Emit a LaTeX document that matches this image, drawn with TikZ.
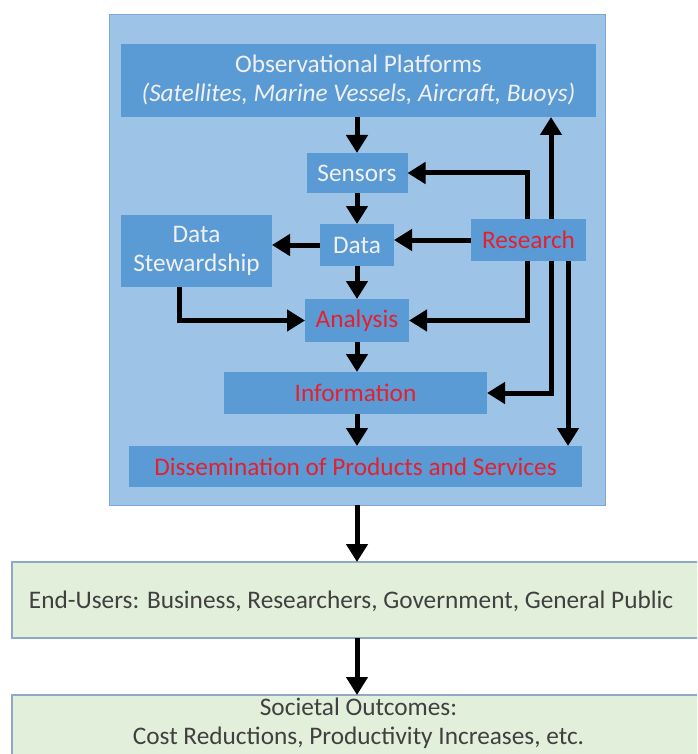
\documentclass[tikz,border=0pt]{standalone}
\usepackage{fontspec}
\setmainfont{Carlito}
\usetikzlibrary{arrows.meta,calc}
\definecolor{outerfill}{HTML}{9DC3E6}
\definecolor{outerdraw}{HTML}{7EA9D6}
\definecolor{boxfill}{HTML}{5B9BD5}
\definecolor{redtxt}{HTML}{E5202E}
\definecolor{greenfill}{HTML}{E2EFDA}
\definecolor{greendraw}{HTML}{8FAAC8}
\definecolor{darktxt}{HTML}{404040}
\begin{document}
\begin{tikzpicture}[x=1pt,y=-1pt,
  txt/.style={font=\fontsize{25.3}{29}\selectfont, align=center},
  blk/.style={txt, fill=boxfill, text=white!94!black, inner sep=0pt, outer sep=0pt},
  redblk/.style={blk, text=redtxt},
  outerbox/.style={fill=outerfill, draw=outerdraw, line width=1pt, inner sep=0pt, outer sep=0pt},
  greenbox/.style={txt, fill=greenfill, draw=greendraw, line width=1.2pt, text=darktxt, inner sep=0pt, outer sep=0pt},
  flow/.style={line width=5pt, -{Triangle[length=18pt,width=21pt]}},
]
\useasboundingbox (0,0) rectangle (697,754);
\clip (0,0) rectangle (697,754);
\fill[white] (0,0) rectangle (697,754);

\node[outerbox, minimum width=496pt, minimum height=490pt] (outer) at (357,260) {};

\node[blk, minimum width=475pt, minimum height=73pt] (obs) at (358.5,80.5)
  {Observational Platforms\\\textit{(Satellites, Marine Vessels, Aircraft, Buoys)}};
\node[blk, minimum width=101pt, minimum height=40pt] (sensors) at (357,173) {Sensors};
\node[blk, minimum width=74pt, minimum height=42pt] (data) at (357,245) {Data};
\node[blk, minimum width=151pt, minimum height=72pt] (ds) at (196.5,251) {Data\\Stewardship};
\node[redblk, minimum width=115pt, minimum height=42pt] (research) at (528.5,240) {Research};
\node[redblk, minimum width=104pt, minimum height=43pt] (analysis) at (357,320.5) {Analysis};
\node[redblk, minimum width=263pt, minimum height=42pt] (info) at (355.5,393) {Information};
\node[redblk, minimum width=453pt, minimum height=41pt] (diss) at (355.5,466.5) {Dissemination of Products and Services};

\node[greenbox, minimum width=695pt, minimum height=76pt] (users) at (359.5,600) {};
\node[txt, text=darktxt] (userstext) at (351,601)
  {End-Users: Business, Researchers, Government, General Public};
\node[greenbox, minimum width=695pt, minimum height=90pt, anchor=north] (societal) at (359.5,695) {};
\node[txt, text=darktxt] (soctext) at (358.5,723.5)
  {Societal Outcomes:\\Cost Reductions, Productivity Increases, etc.};

% central flow
\draw[flow] (obs.south -| sensors.north) -- (sensors.north);
\draw[flow] (sensors.south) -- (data.north);
\draw[flow] (data.south) -- (analysis.north);
\draw[flow] (analysis.south) -- (info.north -| analysis.south);
\draw[flow] (info.south -| analysis.south) -- (diss.north -| analysis.south);
\draw[flow] (outer.south) -- (users.north -| outer.south);
\draw[flow] (users.south -| outer.south) -- (societal.north -| outer.south);

% data stewardship
\draw[flow] (data.west) -- (data.west -| ds.east);
\draw[flow] ([xshift=-17.5pt]ds.south) |- (analysis.west);

% research links
\coordinate (rA) at ([xshift=-1.5pt]research.north);
\coordinate (rB) at ([xshift=22.5pt]research.north);
\coordinate (rAs) at ([xshift=-1.5pt]research.south);
\coordinate (rBs) at ([xshift=22.5pt]research.south);
\coordinate (rCs) at ([xshift=39.5pt]research.south);
\draw[flow] (rA) |- (sensors.east);
\draw[flow] (rB) -- (rB |- obs.south);
\draw[flow] (research.west) -- (research.west -| data.east);
\draw[flow] (rAs) |- (analysis.east);
\draw[flow] (rBs) |- (info.east);
\draw[flow] (rCs) -- (rCs |- diss.north);
\end{tikzpicture}
\end{document}
